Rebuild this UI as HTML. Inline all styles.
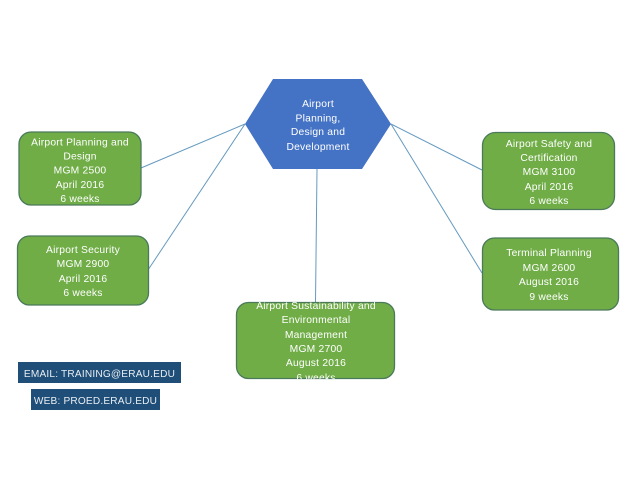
<!DOCTYPE html>
<html><head><meta charset="utf-8"><style>
html,body{margin:0;padding:0;background:#fff}
svg{display:block}
text{font-family:"Liberation Sans",sans-serif;font-size:10.3px;letter-spacing:.22px;fill:#fff;text-anchor:middle}
.g{fill:#70ad47;stroke:#4a7a5a;stroke-width:1.3}
.l{stroke:#659ac0;stroke-width:1;fill:none}
.t{fill:#e8eef2;font-size:10.1px;letter-spacing:.2px}
</style></head><body>
<svg width="638" height="479" viewBox="0 0 638 479" xmlns="http://www.w3.org/2000/svg">
<rect width="638" height="479" fill="#fff"/>
<line class="l" x1="245" y1="124" x2="141" y2="168"/>
<line class="l" x1="245" y1="124" x2="148" y2="270"/>
<line class="l" x1="391" y1="124" x2="482" y2="170"/>
<line class="l" x1="391" y1="124" x2="482" y2="273"/>
<line class="l" x1="317" y1="169" x2="315.500" y2="302"/>
<polygon points="273,79 362,79 391,124 362,169 273,169 245,124" fill="#4472c4"/>
<text x="318" y="107">Airport</text>
<text x="318" y="121.500">Planning,</text>
<text x="318" y="135">Design and</text>
<text x="318" y="150">Development</text>

<rect class="g" x="19" y="132" width="122" height="73" rx="12"/>
<text x="80" y="145.500">Airport Planning and</text>
<text x="80" y="159.500">Design</text>
<text x="80" y="173.500">MGM 2500</text>
<text x="80" y="188">April 2016</text>
<text x="80" y="202">6 weeks</text>

<rect class="g" x="17.500" y="236" width="131" height="69" rx="12"/>
<text x="83" y="253">Airport Security</text>
<text x="83" y="267">MGM 2900</text>
<text x="83" y="282">April 2016</text>
<text x="83" y="296">6 weeks</text>

<rect class="g" x="482.500" y="132.500" width="132" height="77" rx="13"/>
<text x="549" y="147">Airport Safety and</text>
<text x="549" y="161">Certification</text>
<text x="549" y="175">MGM 3100</text>
<text x="549" y="190">April 2016</text>
<text x="549" y="204">6 weeks</text>

<rect class="g" x="482.500" y="238" width="136" height="72" rx="12"/>
<text x="549" y="256">Terminal Planning</text>
<text x="549" y="271">MGM 2600</text>
<text x="549" y="285">August 2016</text>
<text x="549" y="300">9 weeks</text>

<rect class="g" x="236.500" y="302.500" width="158" height="76" rx="12"/>
<clipPath id="c"><rect x="230" y="302" width="170" height="77"/></clipPath>
<g clip-path="url(#c)">
<text x="316" y="309">Airport Sustainability and</text>
<text x="316" y="323">Environmental</text>
<text x="316" y="338">Management</text>
<text x="316" y="352">MGM 2700</text>
<text x="316" y="366">August 2016</text>
<text x="316" y="381">6 weeks</text>
</g>

<rect x="18" y="362" width="163" height="21" fill="#1f4e79"/>
<text class="t" x="99.500" y="377">EMAIL:  TRAINING@ERAU.EDU</text>
<rect x="31" y="389" width="129" height="21" fill="#1f4e79"/>
<text class="t" x="95.500" y="404">WEB: PROED.ERAU.EDU</text>
</svg>
</body></html>
